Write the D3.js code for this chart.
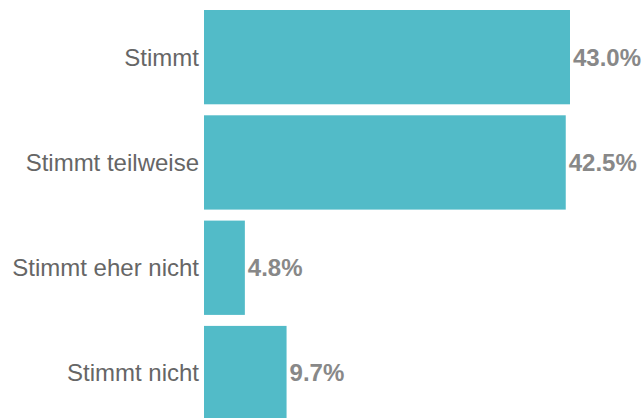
<!DOCTYPE html>
<html>
<head>
<meta charset="utf-8">
<script src="https://cdn.jsdelivr.net/npm/d3@7"></script>
<style>
  html, body { margin: 0; padding: 0; background: #fff; }
  svg { display: block; }
  .cat { font-family: "Liberation Sans", Arial, sans-serif; font-size: 24px; fill: #666; }
  .val { font-family: "Liberation Sans", Arial, sans-serif; font-size: 24px; font-weight: bold; fill: #888; }
</style>
</head>
<body>
<div id="chart"></div>
<script>
// answers and shares (%)
var categories = ['Stimmt', 'Stimmt teilweise', 'Stimmt eher nicht', 'Stimmt nicht'],
    values = [43.0, 42.5, 4.8, 9.7];

var W = 644, H = 418,
    left = 204;

var svg = d3.select('#chart').append('svg')
    .attr('width', W)
    .attr('height', H);

var x = d3.scaleLinear()
    .domain([0, 43])
    .range([left, 570]);

var y = d3.scaleBand()
    .domain(categories)
    .range([10, 420.2])
    .paddingInner(0.1045)
    .paddingOuter(0);

var rows = svg.selectAll('g.row')
    .data(categories.map(function (c, i) { return { name: c, value: values[i] }; }))
    .enter().append('g')
    .attr('class', 'row');

rows.append('rect')
    .attr('x', x(0))
    .attr('y', d => y(d.name))
    .attr('width', d => x(d.value) - x(0))
    .attr('height', y.bandwidth())
    .attr('fill', '#52bbc8');

rows.append('text')
    .attr('class', 'cat')
    .attr('x', left - 5)
    .attr('y', d => y(d.name) + y.bandwidth() / 2)
    .attr('dy', '0.35em')
    .attr('text-anchor', 'end')
    .text(d => d.name);

rows.append('text')
    .attr('class', 'val')
    .attr('x', d => x(d.value) + 3)
    .attr('y', d => y(d.name) + y.bandwidth() / 2)
    .attr('dy', '0.35em')
    .text(d => d.value.toFixed(1) + '%');
</script>
</body>
</html>
